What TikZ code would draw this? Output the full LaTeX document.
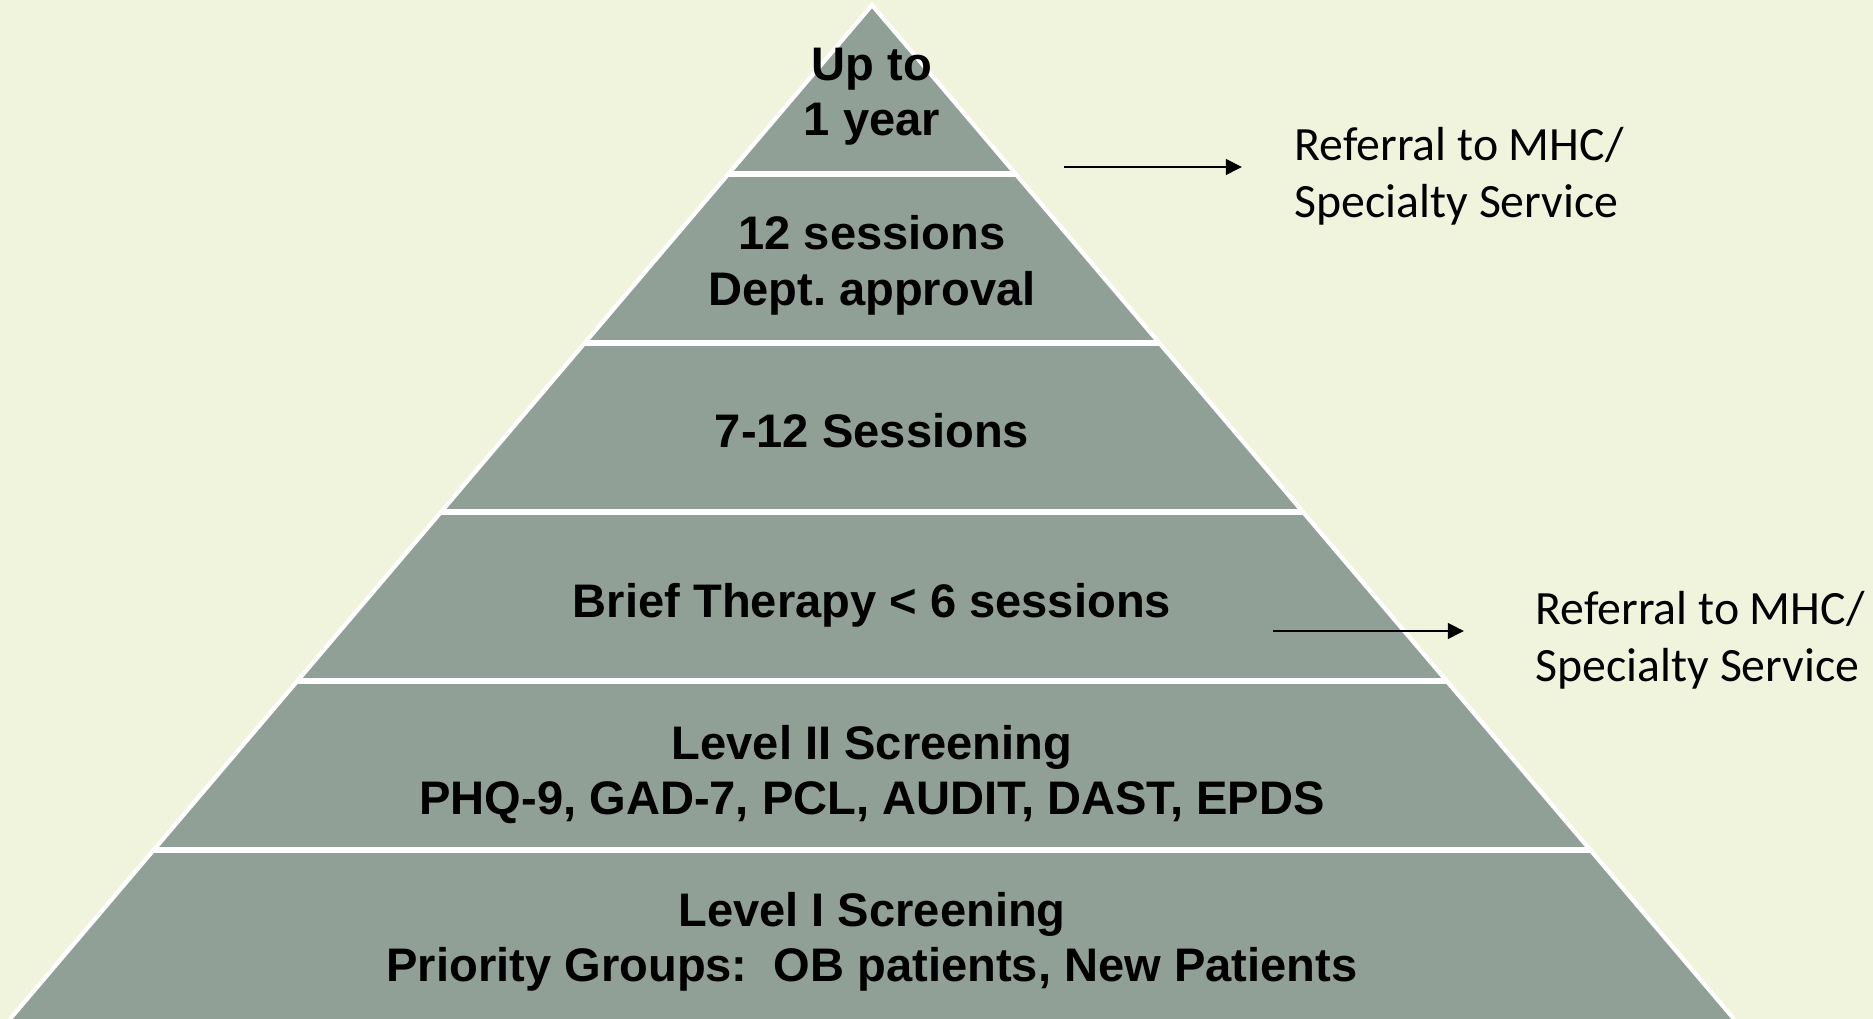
\documentclass[tikz,border=0pt]{standalone}
\usepackage{fontspec}
\setmainfont{Liberation Sans}
\newfontfamily\calibri{Carlito}
\usepackage{tikz}
\usetikzlibrary{arrows.meta}

\definecolor{paper}{RGB}{240,244,220}
\definecolor{slate}{RGB}{145,160,150}

\tikzset{
	tier/.style={font=\fontsize{13.4}{15.7}\selectfont\bfseries, align=center, text depth=0pt, inner sep=0pt},
	referral/.style={font={\calibri\fontsize{13.6}{16.2}\selectfont}, align=left, anchor=west, text depth=0pt, inner sep=0pt},
	toward/.style={line width=0.8pt, -{Triangle[length=4.6pt,width=4.4pt]}}
}

\begin{document}
\begin{tikzpicture}
			\useasboundingbox (0,0) rectangle (18.73,10.19);
			\fill[paper] (0,0) rectangle (18.73,10.19);
			% pyramid body and its white rim
			\fill[slate] (0.10,0) -- (8.72,10.14) -- (17.34,0) -- cycle;
			\draw[white, line width=1.2pt] (0.10,0) -- (8.72,10.14) -- (17.34,0);
			\foreach \k in {1,...,5}
				\draw[white, line width=1.5pt] ({8.72-0.85*(10.14-1.69*\k)},1.69*\k) -- ({8.72+0.85*(10.14-1.69*\k)},1.69*\k);
			% one label per band, bottom up
			\node[tier] (screenone) at (8.72,0.82) {Level I Screening\\Priority Groups:\ \ OB patients, New Patients};
			\node[tier] (screentwo) at (8.72,2.49) {Level II Screening\\PHQ-9, GAD-7, PCL, AUDIT, DAST, EPDS};
			\node[tier] (brief) at (8.72,4.19) {Brief Therapy < 6 sessions};
			\node[tier] (sessions) at (8.72,5.89) {7-12 Sessions};
			\node[tier] (approval) at (8.72,7.585) {12 sessions\\Dept.\ approval};
			\node[tier] (year) at (8.72,9.27) {Up to\\1 year};
			% referrals on the right
			\node[referral] (refertop) at (12.94,8.47) {Referral to MHC/\\Specialty Service};
			\node[referral] (referlow) at (15.35,3.83) {Referral to MHC/\\Specialty Service};
			\coordinate (fromtop) at (10.64,8.52);
			\coordinate (fromlow) at (12.73,3.88);
			\draw[toward, shorten >=0.52cm] (fromtop) -- (fromtop -| refertop.west);
			\draw[toward, shorten >=0.71cm] (fromlow) -- (fromlow -| referlow.west);
		\end{tikzpicture}
\end{document}
